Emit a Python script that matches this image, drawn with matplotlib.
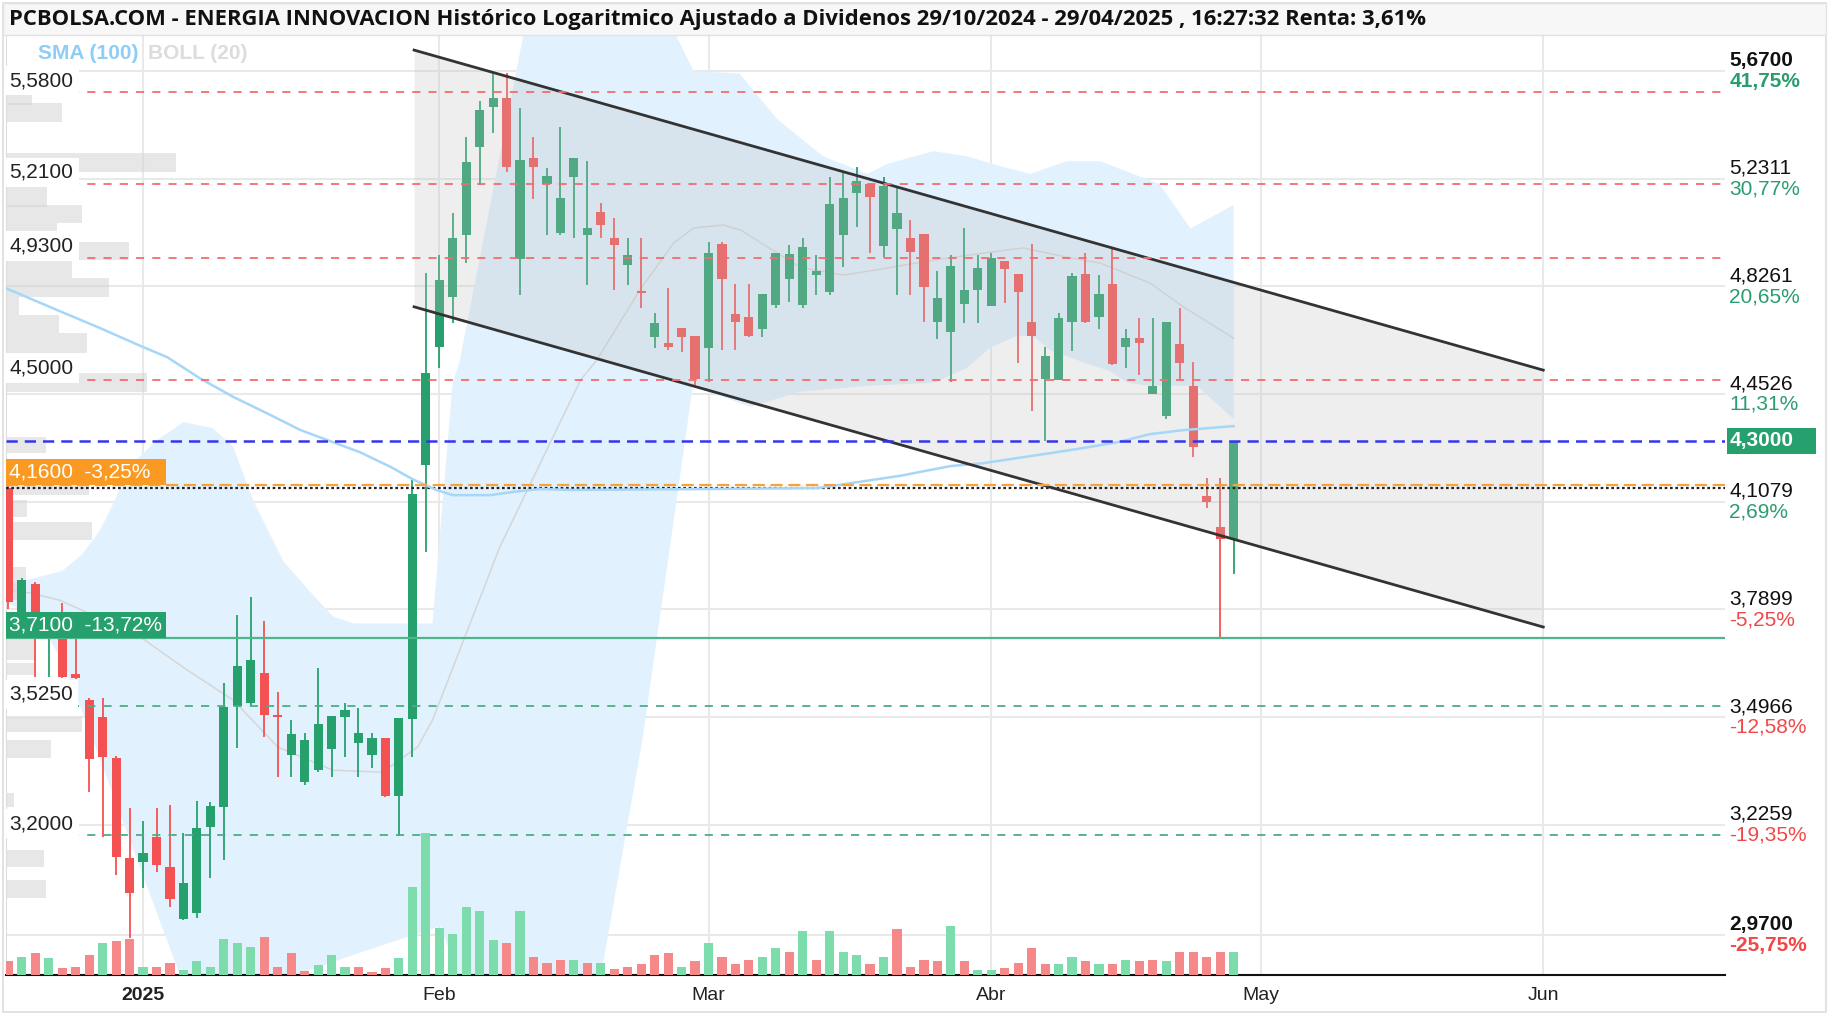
import numpy as np
import matplotlib
matplotlib.use("Agg")
import matplotlib.pyplot as plt
from matplotlib.patches import Rectangle
from matplotlib.ticker import NullLocator

W, H = 1830, 1016

title = ("PCBOLSA.COM - ENERGIA INNOVACION Histórico Logaritmico Ajustado a Dividenos "
         "29/10/2024 - 29/04/2025 , 16:27:32 Renta: 3,61%")

# %% daily candles, x = trading-day index (0 = 02/01/2025)
day = np.arange(-10, 82)
opn = [4.150, 3.737, 3.862, 3.715, 3.760, 3.610, 3.541, 3.496, 3.390, 3.146,
       3.136, 3.196, 3.125, 3.006, 3.019, 3.220, 3.268, 3.525, 3.533, 3.613,
       3.501, 3.398, 3.330, 3.360, 3.413, 3.496, 3.429, 3.398, 3.442, 3.296,
       3.491, 4.222, 4.612, 4.788, 5.015, 5.357, 5.519, 5.557, 4.925, 5.312,
       5.211, 5.023, 5.238, 5.015, 5.102, 5.004, 4.904, 4.810, 4.647, 4.626,
       4.678, 4.650, 4.608, 4.982, 4.727, 4.716, 4.675, 4.759, 4.853, 4.759,
       4.867, 4.806, 5.015, 5.176, 5.211, 4.974, 5.038, 5.004, 5.019, 4.699,
       4.664, 4.762, 4.813, 4.755, 4.918, 4.871, 4.699, 4.503, 4.500, 4.699,
       4.871, 4.716, 4.835, 4.612, 4.643, 4.453, 4.380, 4.622, 4.480, 4.125,
       4.031, 3.995]
high = [4.160, 3.880, 3.868, 3.776, 3.808, 3.745, 3.546, 3.546, 3.395, 3.266,
        3.234, 3.266, 3.273, 3.206, 3.283, 3.281, 3.586, 3.774, 3.825, 3.757,
        3.562, 3.488, 3.455, 3.627, 3.499, 3.533, 3.519, 3.455, 3.442, 3.494,
        4.178, 4.875, 4.940, 5.098, 5.397, 5.544, 5.666, 5.662, 5.515, 5.397,
        5.273, 5.438, 5.312, 5.300, 5.136, 5.079, 5.004, 5.004, 4.730, 4.820,
        4.678, 4.650, 4.989, 4.989, 4.835, 4.835, 4.799, 4.948, 4.978, 5.004,
        4.940, 5.238, 5.254, 5.277, 5.211, 5.238, 5.195, 5.072, 5.019, 4.882,
        4.940, 5.042, 4.940, 4.948, 4.918, 4.871, 4.982, 4.612, 4.730, 4.875,
        4.948, 4.867, 4.970, 4.675, 4.713, 4.713, 4.699, 4.748, 4.560, 4.181,
        4.181, 4.300]
low = [3.790, 3.726, 3.603, 3.603, 3.600, 3.598, 3.305, 3.196, 3.106, 2.963,
       3.076, 3.113, 3.033, 3.003, 3.008, 3.099, 3.141, 3.416, 3.528, 3.444,
       3.343, 3.343, 3.323, 3.355, 3.343, 3.393, 3.343, 3.365, 3.293, 3.198,
       3.393, 3.956, 4.540, 4.696, 4.911, 5.207, 5.413, 5.257, 4.795, 5.152,
       5.015, 5.015, 5.004, 4.831, 5.004, 4.813, 4.831, 4.748, 4.608, 4.601,
       4.594, 4.483, 4.493, 4.601, 4.601, 4.647, 4.647, 4.748, 4.770, 4.748,
       4.795, 4.795, 4.896, 5.045, 4.948, 4.933, 4.795, 4.795, 4.699, 4.640,
       4.493, 4.696, 4.696, 4.755, 4.766, 4.557, 4.396, 4.299, 4.500, 4.598,
       4.696, 4.675, 4.550, 4.540, 4.516, 4.453, 4.370, 4.500, 4.247, 4.088,
       3.710, 3.891]
close = [3.810, 3.874, 3.754, 3.765, 3.603, 3.600, 3.388, 3.393, 3.148, 3.065,
         3.157, 3.130, 3.051, 3.088, 3.218, 3.271, 3.522, 3.632, 3.648, 3.501,
         3.496, 3.452, 3.437, 3.478, 3.499, 3.514, 3.455, 3.442, 3.296, 3.494,
         4.132, 4.523, 4.849, 5.004, 5.296, 5.506, 5.557, 5.277, 5.304, 5.277,
         5.242, 5.156, 5.312, 5.042, 5.053, 4.978, 4.940, 4.802, 4.696, 4.612,
         4.647, 4.503, 4.948, 4.853, 4.699, 4.650, 4.799, 4.948, 4.944, 4.970,
         4.882, 5.133, 5.156, 5.222, 5.160, 5.203, 5.098, 4.952, 4.824, 4.784,
         4.900, 4.813, 4.893, 4.929, 4.889, 4.806, 4.650, 4.580, 4.713, 4.864,
         4.699, 4.799, 4.553, 4.643, 4.626, 4.480, 4.699, 4.557, 4.279, 4.107,
         3.995, 4.300]
# volume, thousands of shares
volume = [140, 180, 220, 170, 70, 80, 200, 320, 340, 360,
          80, 80, 120, 50, 140, 80, 360, 320, 280, 380,
          80, 220, 40, 100, 200, 80, 80, 30, 70, 170,
          880, 1420, 470, 410, 680, 640, 350, 320, 640, 180,
          120, 150, 150, 120, 120, 60, 80, 110, 200, 220,
          80, 140, 320, 180, 110, 150, 180, 270, 230, 440,
          150, 440, 230, 200, 110, 180, 460, 80, 150, 140,
          490, 140, 50, 50, 70, 120, 270, 110, 110, 180,
          140, 110, 110, 150, 140, 150, 140, 230, 230, 180,
          230, 230]

# %% indicators
ub_x = [-10.2, -8, -6, -4.5, -3.2, -2, -1.2, 1, 3.0, 5.2, 6.7, 8.2, 10.4, 12.4, 14.1,
        15.6, 19.1, 21.5, 23.0, 23.5, 28.2, 30, 35, 38, 39.7, 40.9, 44.3, 47.1, 50.5,
        53.8, 55.3, 58.7, 61.2, 63.7, 65.9, 68.6, 71.1, 75.5, 77.8, 79.6, 81]
ub_y = [3.86, 3.88, 3.90, 3.95, 4.02, 4.12, 4.21, 4.30, 4.36, 4.34, 4.28, 4.11, 3.93,
        3.84, 3.77, 3.75, 3.75, 3.75, 4.49, 4.56, 5.81, 6.10, 6.20, 6.00, 5.81, 5.67,
        5.66, 5.47, 5.32, 5.25, 5.29, 5.34, 5.32, 5.28, 5.25, 5.30, 5.30, 5.21, 5.04,
        5.09, 5.13]
lb_x = [-10.2, -8, -6.2, -4.5, 2.7, 6, 11.1, 16, 22.1, 25, 30, 34.0, 37.1, 40.9, 41.4,
        45.1, 48.8, 53.8, 58.7, 61.2, 62.9, 64.9, 66.1, 67.4, 69.8, 71.8, 73.1, 74.8,
        77.3, 78.3, 81]
lb_y = [3.81, 3.77, 3.66, 3.51, 2.885, 2.75, 2.88, 2.93, 2.99, 2.75, 2.60, 2.88, 3.44,
        4.50, 4.47, 4.41, 4.46, 4.48, 4.49, 4.54, 4.61, 4.65, 4.65, 4.60, 4.56, 4.53,
        4.49, 4.48, 4.48, 4.48, 4.37]
mb_x = [-10.2, -8.4, -6.2, -4.5, -3.2, -0.2, 3.3, 6.7, 10.0, 14.1, 17.8, 20.4, 21.5,
        26.5, 32.5, 33.7, 36.9, 39.4, 40.9, 43.1, 44.4, 46.4, 48.8, 52.0, 55.3, 58.7,
        62.4, 65.4, 68.6, 71.1, 74.8, 77.3, 81]
mb_y = [3.845, 3.837, 3.816, 3.787, 3.760, 3.712, 3.621, 3.541, 3.419, 3.360, 3.355,
        3.419, 3.488, 3.971, 4.500, 4.567, 4.813, 4.985, 5.042, 5.053, 5.034, 4.970,
        4.896, 4.867, 4.893, 4.922, 4.948, 4.967, 4.933, 4.911, 4.838, 4.752, 4.643]
sma_x = [-10.2, -6.9, -3.2, 0, 1.8, 4.2, 6.7, 9.2, 11.7, 14.1, 16.1, 18.4, 20.0, 21.8,
         23.0, 25.8, 27.5, 29.5, 31.9, 41.9, 50.1, 56.2, 60.0, 62.4, 64.9, 67.4, 69.8,
         72.4, 74.8, 77.3, 81]
sma_y = [4.820, 4.752, 4.678, 4.612, 4.577, 4.506, 4.443, 4.389, 4.334, 4.295, 4.263,
         4.216, 4.178, 4.144, 4.128, 4.128, 4.138, 4.147, 4.144, 4.147, 4.150, 4.188,
         4.219, 4.228, 4.244, 4.260, 4.276, 4.295, 4.321, 4.334, 4.347]

# bearish channel
chan_x = [20.13, 104]
chan_top = [5.760, 4.533]
chan_bot = [4.753, 3.740]

# volume at price (left profile)
prof_lo = [5.527, 5.458, 5.257, 5.121, 5.060, 5.027, 4.922, 4.857, 4.788, 4.723, 4.661,
           4.591, 4.459, 4.259, 4.128, 4.061, 3.992, 3.816, 3.648, 3.608, 3.457, 3.390,
           3.268, 3.125, 3.053]
prof_hi = [5.578, 5.536, 5.332, 5.199, 5.129, 5.060, 4.989, 4.922, 4.857, 4.788, 4.723,
           4.661, 4.523, 4.312, 4.160, 4.113, 4.046, 3.912, 3.709, 3.640, 3.496, 3.437,
           3.303, 3.165, 3.095]
prof_vol = [26, 56, 170, 41, 76, 51, 123, 66, 103, 13, 53, 81, 141, 40, 83, 21, 86, 20,
            30, 28, 76, 45, 8, 38, 40]

# price scale on the right
grid_prices = [5.67, 5.2311, 4.8261, 4.4526, 4.1079, 3.7899, 3.4966, 3.2259, 2.97]
grid_labels = ["5,6700", "5,2311", "4,8261", "4,4526", "4,1079", "3,7899", "3,4966",
               "3,2259", "2,9700"]
grid_pcts = ["41,75%", "30,77%", "20,65%", "11,31%", "2,69%", "-5,25%", "-12,58%",
             "-19,35%", "-25,75%"]

# horizontal levels
res_levels = [5.58, 5.21, 4.93, 4.50]
res_labels = ["5,5800", "5,2100", "4,9300", "4,5000"]
sup_levels = [3.525, 3.20]
sup_labels = ["3,5250", "3,2000"]
last_price = 4.30
ref_price = 4.16
start_price = 4.15
low_price = 3.71

month_pos = [0, 22, 42, 63, 83, 104]
month_lab = ["2025", "Feb", "Mar", "Abr", "May", "Jun"]

GREEN = "#26a06c"
RED = "#f45252"
VGREEN = "#7ddcab"
VRED = "#f58888"
FONT = "Liberation Sans"

# %% figure
fig = plt.figure(figsize=(W / 100, H / 100), dpi=100)
fig.patches.append(Rectangle((3 / W, 1 - 1012 / H), 1823 / W, 1009 / H, transform=fig.transFigure,
                             fc="none", ec="#dddddd", lw=1.2))
fig.patches.append(Rectangle((3 / W, 1 - 35 / H), 1823 / W, 32 / H, transform=fig.transFigure,
                             fc="#f7f7f7", ec="#e2e2e2", lw=1))
fig.text(9 / W, 1 - 20 / H, title, fontsize=15.8, fontweight="bold", family="Open Sans",
         va="center", ha="left", color="#111111")

ax = fig.add_axes([6 / W, 41 / H, 1719 / W, 940 / H])
ax.set_yscale("log")
ymin, ymax = 2.8824, 5.8254
ax.set_xlim(-10.18, 117.5)
ax.set_ylim(ymin, ymax)
px_per_ln = 940 / np.log(ymax / ymin)

ax.set_yticks(grid_prices)
ax.yaxis.set_minor_locator(NullLocator())
ax.set_yticklabels([])
ax.set_xticks(month_pos)
ax.set_xticklabels(month_lab, fontsize=14, family=FONT, color="#222222")
ax.get_xticklabels()[0].set_fontweight("bold")
ax.tick_params(length=0, pad=9)
ax.grid(True, color="#e9e9e9", lw=1.5, zorder=0)
ax.set_axisbelow(True)
for s in ("top", "right"):
    ax.spines[s].set_visible(False)
ax.spines["left"].set_color("#dddddd")
ax.spines["bottom"].set_color("#111111")
ax.spines["bottom"].set_linewidth(1.5)

# Bollinger band and moving averages
ax.fill(np.r_[ub_x, lb_x[::-1]], np.r_[ub_y, lb_y[::-1]], color="#e1f1fd", lw=0, zorder=1)
ax.plot(mb_x, mb_y, color="#d6d6d6", lw=1.1, zorder=2)

# volume at price
ytr = ax.get_yaxis_transform()
for lo, hi, v in zip(prof_lo, prof_hi, prof_vol):
    ax.add_patch(Rectangle((0, lo), v / 1719, hi - lo, transform=ytr, fc="#d4d4d4",
                           alpha=0.55, lw=0, zorder=2.5))

# candles
o, hh, ll, c = map(np.array, (opn, high, low, close))
col = np.where(c >= o, GREEN, RED)
ax.vlines(day, ll, hh, colors=col, lw=1.3, zorder=3)
b_lo = np.minimum(o, c)
b_hi = np.maximum(np.maximum(o, c), b_lo * 1.0015)
ax.bar(day, b_hi - b_lo, bottom=b_lo, width=0.68, color=col, lw=0, zorder=3)

# channel
ax.fill_between(chan_x, chan_bot, chan_top, color="#c3c3c3", alpha=0.27, lw=0, zorder=4)
ax.plot(chan_x, chan_top, color="#333333", lw=2.0, zorder=5)
ax.plot(chan_x, chan_bot, color="#333333", lw=2.0, zorder=5)

# horizontal levels
for p in res_levels:
    ax.axhline(p, color="#f36d6d", lw=1.3, ls=(0, (4.5, 4.5)), zorder=5)
for p in sup_levels:
    ax.axhline(p, color="#4aae86", lw=1.3, ls=(0, (4.5, 4.5)), zorder=5)
ax.axhline(last_price, color="#3535ee", lw=1.8, ls=(0, (4.5, 2.8)), zorder=5)
ax.axhline(ref_price, color="#f8a33a", lw=1.6, ls=(0, (5.5, 2.5)), zorder=5)
ax.axhline(start_price, color="#222222", lw=1.6, ls=(0, (1.2, 1.2)), zorder=4.5)
ax.axhline(low_price, color="#4fb58b", lw=1.6, zorder=5)
# SMA passes over the dotted start line
ax.plot(sma_x, sma_y, color="#a6d6f8", lw=1.8, zorder=4.6)

# volume bars
axv = ax.twinx()
axv.set_ylim(0, 9400)
axv.axis("off")
prev = np.r_[o[0], c[:-1]]
vcol = np.where(c >= prev, VGREEN, VRED)
axv.bar(day, volume, width=0.68, color=vcol, lw=0)

# labels on the level lines
for p, t in zip(res_levels + sup_levels, res_labels + sup_labels):
    ax.annotate(t, (0, p), xycoords=ytr, xytext=(2.5, 8.5), textcoords="offset points",
                fontsize=15, family=FONT, color="#222222", va="center", ha="left", zorder=6,
                bbox=dict(boxstyle="square,pad=0.25", fc="white", ec="none"))


def level_box(p, color, x0, width, h_up, h_dn):
    lo = p * np.exp(-h_dn / px_per_ln)
    hi = p * np.exp(h_up / px_per_ln)
    ax.add_patch(Rectangle((x0, lo), width, hi - lo, transform=ytr, fc=color, lw=0,
                           zorder=6.5, clip_on=False))
    return (lo * hi) ** 0.5


ym = level_box(ref_price, "#fb9a22", 0, 160 / 1719, 26, 0)
ax.text(3 / 1719, ym, "4,1600  -3,25%", transform=ytr, fontsize=15, family=FONT,
        color="white", va="center", ha="left", zorder=7)
ym = level_box(low_price, "#26a06c", 0, 160 / 1719, 26, 0)
ax.text(3 / 1719, ym, "3,7100  -13,72%", transform=ytr, fontsize=15, family=FONT,
        color="white", va="center", ha="left", zorder=7)

# right price scale
for i, (p, t, pc) in enumerate(zip(grid_prices, grid_labels, grid_pcts)):
    w = "bold" if i in (0, len(grid_prices) - 1) else "normal"
    ax.annotate(t, (1, p), xycoords=ytr, xytext=(3, 7.5), textcoords="offset points",
                fontsize=15, family=FONT, color="#111111", fontweight=w, va="center",
                ha="left", annotation_clip=False)
    ax.annotate(pc, (1, p), xycoords=ytr, xytext=(3, -7.5), textcoords="offset points",
                fontsize=15, family=FONT, fontweight=w, va="center", ha="left",
                color="#2a9d6f" if not pc.startswith("-") else "#f04848",
                annotation_clip=False)
level_box(last_price, "#26a06c", 1.0012, 89 / 1719, 13, 13)
ax.annotate("4,3000", (1, last_price), xycoords=ytr, xytext=(3, 0),
            textcoords="offset points", fontsize=15, family=FONT, color="white",
            fontweight="bold", va="center", ha="left", annotation_clip=False, zorder=8)

# indicator legend
ax.text(32 / 1719, 0.98, "SMA (100)", transform=ax.transAxes, fontsize=15, family=FONT,
        fontweight="bold", color="#8ecdf6", va="center", ha="left")
ax.text(142 / 1719, 0.98, "BOLL (20)", transform=ax.transAxes, fontsize=15, family=FONT,
        fontweight="bold", color="#dcdcdc", va="center", ha="left")

fig.savefig("out.png", dpi=100, facecolor="white")
